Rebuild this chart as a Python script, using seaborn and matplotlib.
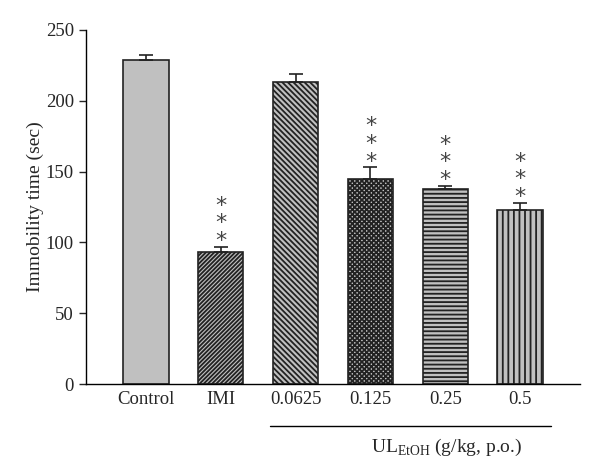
import matplotlib
matplotlib.use("Agg")
import matplotlib.pyplot as plt
import seaborn as sns
import pandas as pd

# dados
grupos = ["Control", "IMI", "0.0625", "0.125", "0.25", "0.5"]
media = [229, 93, 213, 145, 138, 123]
erro = [3, 4, 6, 8, 2, 5]
signif = ["", "***", "", "***", "***", "***"]
hachuras = ["", "////////", "\\\\\\\\\\\\", "xxxxxxx", "----", "|||"]

sns.set_theme(style="white")
plt.rcParams["font.family"] = ["Liberation Serif", "DejaVu Serif"]
plt.rcParams["hatch.linewidth"] = 1.3
plt.rcParams["hatch.color"] = "#1a1a1a"

df = pd.DataFrame({"Grupo": grupos, "Tempo": media})

fig = plt.figure(figsize=(6, 4.76), dpi=100)
ax = fig.add_axes([0.143, 0.193, 0.824, 0.744])

sns.barplot(data=df, x="Grupo", y="Tempo", color="#c0c0c0", width=0.61,
            edgecolor="#222222", linewidth=1.2, saturation=1, ax=ax)

for barra, h in zip(ax.patches, hachuras):
    barra.set_hatch(h)

# barras de erro (só para cima)
ax.errorbar(range(len(grupos)), media, yerr=[[0] * len(erro), erro],
            fmt="none", ecolor="#222222", elinewidth=1.2, capsize=5, capthick=1.2)

# asteriscos empilhados num único texto
for i, (m, e, s) in enumerate(zip(media, erro, signif)):
    if s:
        ax.text(i, m + e - 3, "\n".join(s), ha="center", va="bottom",
                fontsize=16, linespacing=0.85, color="#444444", family="DejaVu Sans")

ax.set_ylim(0, 250)
ax.set_xlim(-0.8, 5.8)
ax.set_yticks([0, 50, 100, 150, 200, 250])
ax.set_xlabel("")
ax.set_ylabel("Immobility time (sec)", fontsize=14, labelpad=1)
ax.tick_params(axis="y", direction="out", length=5, width=1, labelsize=13.5, left=True)
ax.tick_params(axis="x", length=0, labelsize=13.5, pad=5)
for lado in ["top", "right"]:
    ax.spines[lado].set_visible(False)
for lado in ["left", "bottom"]:
    ax.spines[lado].set_color("black")
    ax.spines[lado].set_linewidth(1)

# linha do grupo UL_EtOH
fig.add_artist(plt.Line2D([270 / 600, 551 / 600], [1 - 426 / 476, 1 - 426 / 476],
                          color="black", linewidth=1))
fig.text(447 / 600, 1 - 447 / 476, r"UL$_{\mathregular{EtOH}}$ (g/kg, p.o.)",
         ha="center", va="center", fontsize=14)

fig.savefig("out.png", dpi=100)
